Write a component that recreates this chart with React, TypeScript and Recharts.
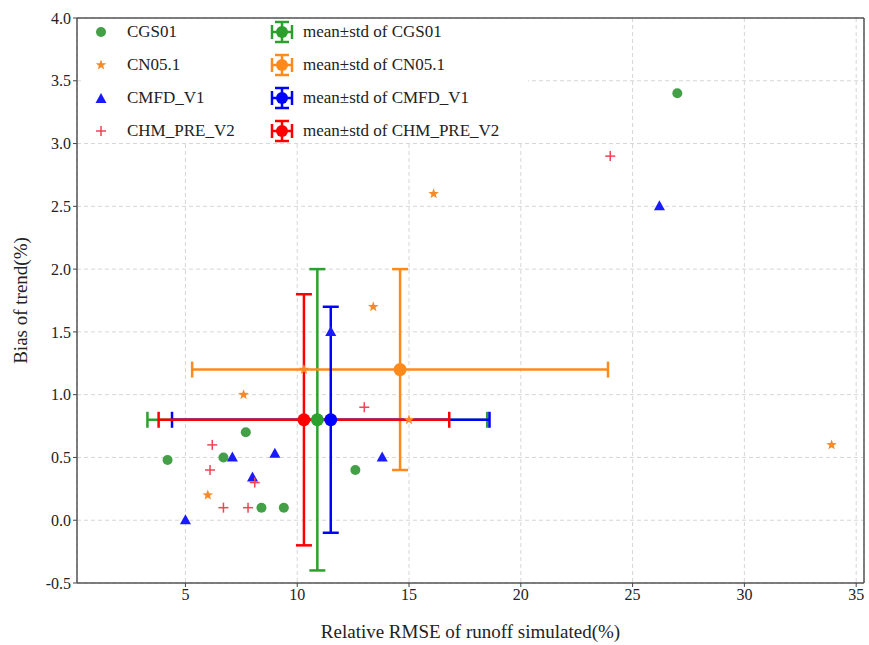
import React from 'react'
import { ScatterChart, Scatter, XAxis, YAxis, CartesianGrid, ErrorBar, ReferenceLine } from 'recharts'

// scatter points per dataset (x = relative RMSE %, y = bias of trend %)
const cgsX = [27.0, 4.2, 6.7, 7.7, 8.4, 9.4, 12.6]
const cgsY = [3.4, 0.48, 0.5, 0.7, 0.1, 0.1, 0.4]
const cnX = [16.1, 13.4, 7.6, 6.0, 33.9, 15.0, 10.3]
const cnY = [2.6, 1.7, 1.0, 0.2, 0.6, 0.8, 1.2]
const cmfdX = [26.2, 11.5, 5.0, 7.1, 9.0, 8.0, 13.8]
const cmfdY = [2.5, 1.5, 0.0, 0.5, 0.53, 0.34, 0.5]
const chmX = [24.0, 13.0, 6.2, 6.1, 8.1, 6.7, 7.8]
const chmY = [2.9, 0.9, 0.6, 0.4, 0.3, 0.1, 0.1]

// mean ± std
const names = ['CGS01', 'CN05.1', 'CMFD_V1', 'CHM_PRE_V2']
const meanX = [10.9, 14.6, 11.5, 10.3]
const meanY = [0.8, 1.2, 0.8, 0.8]
const stdX = [7.6, 9.3, 7.1, 6.5]
const stdY = [1.2, 0.8, 0.9, 1.0]

const xTicks = [5, 10, 15, 20, 25, 30, 35]
const yTicks = [-0.5, 0, 0.5, 1, 1.5, 2, 2.5, 3, 3.5, 4]

const ptColors = ['#43a047', '#f48a2a', '#1a1aff', '#ee4455']
const barColors = ['#2ca02c', '#ff8a1c', '#0000ff', '#ff0000']
const serif = '"Liberation Serif", "Times New Roman", Times, "DejaVu Serif", serif'

const toPts = (xs: number[], ys: number[]) => xs.map((x, i) => ({ x, y: ys[i] }))

const Dot = (p: any) => <circle cx={p.cx} cy={p.cy} r={5} fill={ptColors[0]} />
const Star = (p: any) => {
  const pts: string[] = []
  for (let i = 0; i < 10; i++) {
    const r = i % 2 === 0 ? 5.5 : 2.3
    const a = -Math.PI / 2 + (i * Math.PI) / 5
    pts.push(`${p.cx + r * Math.cos(a)},${p.cy + r * Math.sin(a)}`)
  }
  return <polygon points={pts.join(' ')} fill={ptColors[1]} />
}
const Tri = (p: any) => (
  <polygon points={`${p.cx},${p.cy - 6} ${p.cx - 5.5},${p.cy + 4} ${p.cx + 5.5},${p.cy + 4}`} fill={ptColors[2]} />
)
const Plus = (p: any) => (
  <g stroke={ptColors[3]} strokeWidth={1.5}>
    <line x1={p.cx - 5} y1={p.cy} x2={p.cx + 5} y2={p.cy} />
    <line x1={p.cx} y1={p.cy - 5} x2={p.cx} y2={p.cy + 5} />
  </g>
)

const MeanIcon = ({ color }: { color: string }) => (
  <svg width={26} height={24}>
    <g stroke={color} strokeWidth={2.5}>
      <line x1={3} y1={12} x2={23} y2={12} />
      <line x1={13} y1={2} x2={13} y2={22} />
      <line x1={3} y1={5} x2={3} y2={19} />
      <line x1={23} y1={5} x2={23} y2={19} />
      <line x1={6} y1={2} x2={20} y2={2} />
      <line x1={6} y1={22} x2={20} y2={22} />
    </g>
    <circle cx={13} cy={12} r={6} fill={color} />
  </svg>
)

const legendIcons = [
  <svg width={16} height={16}><Dot cx={8} cy={8} /></svg>,
  <svg width={16} height={16}><Star cx={8} cy={8} /></svg>,
  <svg width={16} height={16}><Tri cx={8} cy={9} /></svg>,
  <svg width={16} height={16}><Plus cx={8} cy={8} /></svg>,
]

const ChartLegend = () => (
  <>
    <div style={{ position: 'absolute', left: 84, top: 19, width: 444, height: 122, background: '#fff' }} />
    <div style={{ position: 'absolute', left: 84, top: 15, width: 444, fontFamily: serif, fontSize: 17, color: '#222' }}>
      {names.map((n, i) => (
        <div key={n} style={{ display: 'flex', alignItems: 'center', height: 33 }}>
          <div style={{ width: 16, marginLeft: 9, display: 'flex' }}>{legendIcons[i]}</div>
          <div style={{ width: 142, marginLeft: 18 }}>{n}</div>
          <div style={{ display: 'flex' }}><MeanIcon color={barColors[i]} /></div>
          <div style={{ marginLeft: 8 }}>mean±std of {n}</div>
        </div>
      ))}
    </div>
  </>
)

const App = () => {
  const tickStyle = { fontFamily: serif, fontSize: 16, fill: '#222' }
  return (
    <div style={{ position: 'absolute', left: 0, top: 0, background: '#fff' }}>
      <ScatterChart width={869} height={645} margin={{ top: 18, right: 5, bottom: 0, left: 0 }}>
        <CartesianGrid stroke="#d6d6d6" strokeDasharray="4 3" />
        <XAxis
          type="number"
          dataKey="x"
          domain={[0.15, 35.35]}
          allowDataOverflow
          ticks={xTicks}
          height={62}
          tickSize={4}
          tick={tickStyle}
          tickLine={{ stroke: '#444' }}
          axisLine={{ stroke: '#555', strokeWidth: 1.5 }}
          label={{ value: 'Relative RMSE of runoff simulated(%)', position: 'insideBottom', offset: 7, style: { fontFamily: serif, fontSize: 19, fill: '#222' } }}
        />
        <YAxis
          type="number"
          dataKey="y"
          domain={[-0.5, 4]}
          allowDataOverflow
          ticks={yTicks}
          width={77}
          tickSize={4}
          tickFormatter={(v: number) => v.toFixed(1)}
          tick={tickStyle}
          tickLine={{ stroke: '#444' }}
          axisLine={{ stroke: '#555', strokeWidth: 1.5 }}
          label={{ value: 'Bias of trend(%)', angle: -90, position: 'insideLeft', offset: 20, style: { fontFamily: serif, fontSize: 19, fill: '#222', textAnchor: 'middle' } }}
        />
        <ReferenceLine x={35.35} stroke="#555" strokeWidth={1.5} />
        <ReferenceLine y={4} stroke="#555" strokeWidth={1.5} />
        <Scatter data={toPts(cgsX, cgsY)} shape={Dot} isAnimationActive={false} />
        <Scatter data={toPts(cnX, cnY)} shape={Star} isAnimationActive={false} />
        <Scatter data={toPts(cmfdX, cmfdY)} shape={Tri} isAnimationActive={false} />
        <Scatter data={toPts(chmX, chmY)} shape={Plus} isAnimationActive={false} />
        {names.map((n, i) => (
          <Scatter
            key={n}
            data={[{ x: meanX[i], y: meanY[i], ex: stdX[i], ey: stdY[i] }]}
            shape={() => <g />}
            isAnimationActive={false}
          >
            <ErrorBar dataKey="ex" direction="x" width={8} stroke={barColors[i]} strokeWidth={2.5} isAnimationActive={false} />
            <ErrorBar dataKey="ey" direction="y" width={8} stroke={barColors[i]} strokeWidth={2.5} isAnimationActive={false} />
          </Scatter>
        ))}
        {names.map((n, i) => (
          <Scatter
            key={'m' + n}
            data={[{ x: meanX[i], y: meanY[i] }]}
            shape={(p: any) => <circle cx={p.cx} cy={p.cy} r={6.5} fill={barColors[i]} />}
            isAnimationActive={false}
          />
        ))}
      </ScatterChart>
      <ChartLegend />
    </div>
  )
}

export default App
